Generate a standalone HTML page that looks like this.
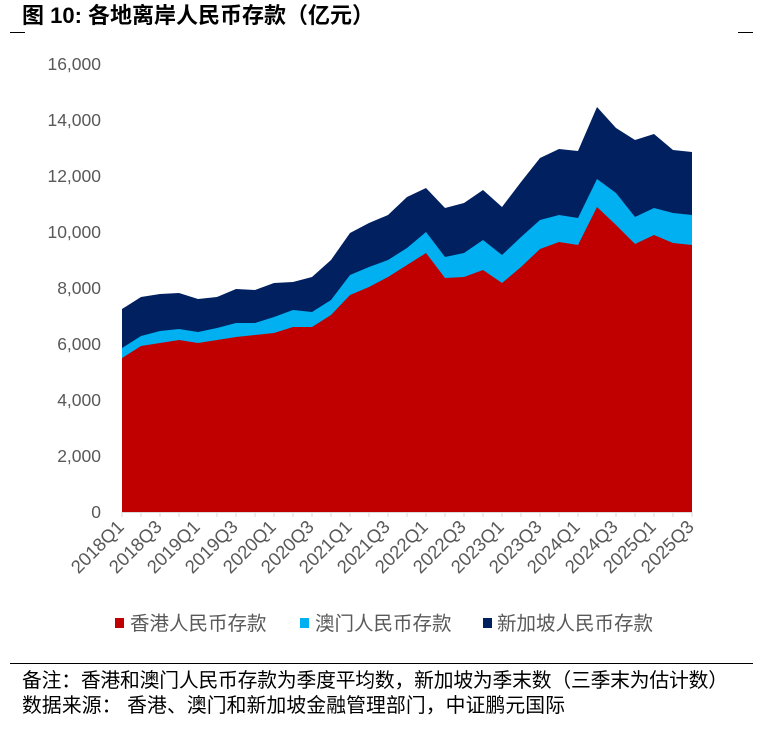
<!DOCTYPE html>
<html><head><meta charset="utf-8"><style>
body{margin:0;background:#fff;width:763px;height:729px;overflow:hidden}
svg{display:block}
</style></head><body>
<svg width="763" height="729" xmlns="http://www.w3.org/2000/svg" font-family="Liberation Sans, Noto Sans CJK SC, sans-serif">
<text x="22" y="23" font-size="22" font-weight="bold" fill="#000">图 10: 各地离岸人民币存款（亿元）</text>
<line x1="10" y1="32.5" x2="25" y2="32.5" stroke="#000" stroke-width="1"/>
<line x1="738" y1="32.5" x2="753" y2="32.5" stroke="#000" stroke-width="1"/>
<g font-size="17.5" fill="#595959" text-anchor="end">
<text x="101" y="70">16,000</text>
<text x="101" y="126">14,000</text>
<text x="101" y="182">12,000</text>
<text x="101" y="238">10,000</text>
<text x="101" y="294">8,000</text>
<text x="101" y="350">6,000</text>
<text x="101" y="406">4,000</text>
<text x="101" y="462">2,000</text>
<text x="101" y="518">0</text>
</g>
<polygon fill="#002060" points="122,309 141,297 160,294 179,293 198,299 217,297 236,289 255,290 274,283 293,282 312,277 331,260 350,233 369,223 388,215 407,197 426,188 445,208 464,203 483,190 502,207 521,182 540,158 559,149 578,151 597,107 616,128 635,140 654,134 673,150 692,152 692,512 122,512"/>
<polygon fill="#00B0F0" points="122,348 141,336 160,331 179,329 198,332 217,328 236,323 255,323 274,317 293,310 312,312 331,300 350,275 369,267 388,260 407,248 426,232 445,257 464,253 483,240 502,255 521,237 540,220 559,215 578,218 597,179 616,193 635,217 654,208 673,213 692,215 692,512 122,512"/>
<polygon fill="#C00000" points="122,358 141,346 160,343 179,340 198,343 217,340 236,337 255,335 274,333 293,327 312,327 331,315 350,295 369,287 388,277 407,265 426,253 445,278 464,277 483,270 502,283 521,267 540,249 559,242 578,245 597,207 616,225 635,244 654,235 673,243 692,245 692,512 122,512"/>
<line x1="122" y1="512.5" x2="692" y2="512.5" stroke="#d9d9d9" stroke-width="1"/>
<g stroke="#d9d9d9" stroke-width="1">
<line x1="122" y1="512" x2="122" y2="517"/><line x1="141" y1="512" x2="141" y2="517"/><line x1="160" y1="512" x2="160" y2="517"/><line x1="179" y1="512" x2="179" y2="517"/><line x1="198" y1="512" x2="198" y2="517"/><line x1="217" y1="512" x2="217" y2="517"/><line x1="236" y1="512" x2="236" y2="517"/><line x1="255" y1="512" x2="255" y2="517"/><line x1="274" y1="512" x2="274" y2="517"/><line x1="293" y1="512" x2="293" y2="517"/><line x1="312" y1="512" x2="312" y2="517"/><line x1="331" y1="512" x2="331" y2="517"/><line x1="350" y1="512" x2="350" y2="517"/><line x1="369" y1="512" x2="369" y2="517"/><line x1="388" y1="512" x2="388" y2="517"/><line x1="407" y1="512" x2="407" y2="517"/><line x1="426" y1="512" x2="426" y2="517"/><line x1="445" y1="512" x2="445" y2="517"/><line x1="464" y1="512" x2="464" y2="517"/><line x1="483" y1="512" x2="483" y2="517"/><line x1="502" y1="512" x2="502" y2="517"/><line x1="521" y1="512" x2="521" y2="517"/><line x1="540" y1="512" x2="540" y2="517"/><line x1="559" y1="512" x2="559" y2="517"/><line x1="578" y1="512" x2="578" y2="517"/><line x1="597" y1="512" x2="597" y2="517"/><line x1="616" y1="512" x2="616" y2="517"/><line x1="635" y1="512" x2="635" y2="517"/><line x1="654" y1="512" x2="654" y2="517"/><line x1="673" y1="512" x2="673" y2="517"/><line x1="692" y1="512" x2="692" y2="517"/>
</g>
<g font-size="18.5" fill="#595959" text-anchor="end">
<text transform="translate(125,528) rotate(-45)">2018Q1</text>
<text transform="translate(163,528) rotate(-45)">2018Q3</text>
<text transform="translate(201,528) rotate(-45)">2019Q1</text>
<text transform="translate(239,528) rotate(-45)">2019Q3</text>
<text transform="translate(277,528) rotate(-45)">2020Q1</text>
<text transform="translate(315,528) rotate(-45)">2020Q3</text>
<text transform="translate(353,528) rotate(-45)">2021Q1</text>
<text transform="translate(391,528) rotate(-45)">2021Q3</text>
<text transform="translate(429,528) rotate(-45)">2022Q1</text>
<text transform="translate(467,528) rotate(-45)">2022Q3</text>
<text transform="translate(505,528) rotate(-45)">2023Q1</text>
<text transform="translate(543,528) rotate(-45)">2023Q3</text>
<text transform="translate(581,528) rotate(-45)">2024Q1</text>
<text transform="translate(619,528) rotate(-45)">2024Q3</text>
<text transform="translate(657,528) rotate(-45)">2025Q1</text>
<text transform="translate(695,528) rotate(-45)">2025Q3</text>
</g>
<g font-size="19.5" fill="#595959">
<rect x="115" y="618" width="9" height="10" fill="#C00000"/>
<text x="130" y="630">香港人民币存款</text>
<rect x="300" y="618" width="9" height="10" fill="#00B0F0"/>
<text x="315" y="630">澳门人民币存款</text>
<rect x="483" y="618" width="9" height="10" fill="#002060"/>
<text x="497" y="630">新加坡人民币存款</text>
</g>
<line x1="10" y1="663.5" x2="753" y2="663.5" stroke="#000" stroke-width="1"/>
<g font-size="19.8" fill="#000">
<text x="22" y="687" textLength="706">备注：香港和澳门人民币存款为季度平均数，新加坡为季末数（三季末为估计数）</text>
<text x="22" y="712" textLength="543">数据来源： 香港、澳门和新加坡金融管理部门，中证鹏元国际</text>
</g>
</svg>
</body></html>
